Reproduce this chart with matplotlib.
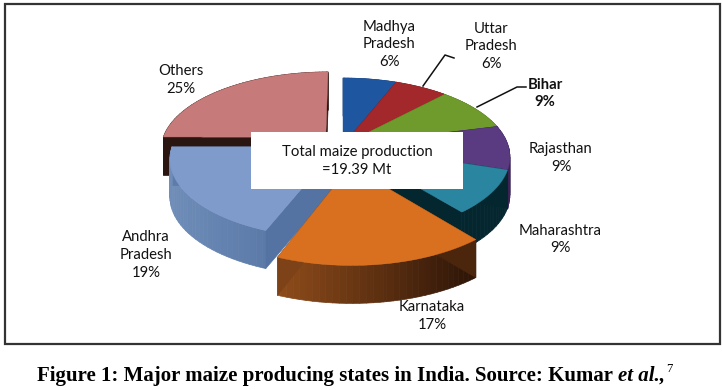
import matplotlib
matplotlib.use("Agg")
import matplotlib.pyplot as plt
import numpy as np
from matplotlib.collections import PolyCollection
from matplotlib.colors import to_rgb
from matplotlib.patches import Polygon, Rectangle

states = ["Madhya\nPradesh", "Uttar\nPradesh", "Bihar", "Rajasthan", "Maharashtra",
          "Karnataka", "Andhra\nPradesh", "Others"]
shares = [6, 6, 9, 9, 9, 17, 19, 25]
explode = [0, 0, 0, 0, 0, 0.27, 0.04, 0.15]
top_colors = ["#1f56a0", "#a3282c", "#6f9a2c", "#5a3a80", "#2a85a0",
              "#d8701f", "#7f9bcb", "#c67a7a"]
side_left = ["#123a70", "#6e1a1c", "#4a6a1c", "#3a2456", "#04262e",
             "#8f4c1a", "#6f8db8", "#2a1510"]
side_right = ["#123a70", "#6e1a1c", "#4a6a1c", "#3a2456", "#04262e",
              "#2c1407", "#4d6c9c", "#2a1510"]
# painter's order, back to front
draw_order = [7, 0, 1, 2, 3, 4, 6, 5]

# where the pie sits, in pixels
cx, cy = 343, 145
rx, ry = 165, 77
persp = 0.15
depth = 38

label_pos = [(389, 44.5), (491, 46.5), (545, 93.5), (561, 158), (560, 239.5),
             (432, 316), (146, 255), (181, 80)]


def to_screen(pts):
    s = 1 / (1 + persp * pts[:, 1])
    return np.column_stack([cx + rx * pts[:, 0] * s, cy - ry * pts[:, 1] * s])


fig = plt.figure(figsize=(7.22, 3.9), dpi=100)
ax = fig.add_axes([0, 0, 1, 1])
ax.set_xlim(0, 722)
ax.set_ylim(390, 0)
ax.axis("off")

# let pie work out the wedges, then project them
tmp = fig.add_axes([0, 0, 1, 1])
wedges, _ = tmp.pie(shares, explode=explode, startangle=90, counterclock=False)
outlines = []
for w in wedges:
    p = w.get_patch_transform().transform_path(w.get_path())
    # scaled up first, to_polygons flattens curves in pixel-ish units
    big = p.transformed(matplotlib.transforms.Affine2D().scale(1000))
    outlines.append(to_screen(big.to_polygons(closed_only=False)[0] / 1000))
fig.delaxes(tmp)

ax.add_patch(Rectangle((4.5, 3.5), 715, 340, fc="white", ec="#333333", lw=1.6, zorder=0))

for i in draw_order:
    top = outlines[i]
    a, b = top, np.roll(top, -1, axis=0)
    quads = [[p, q, q + [0, depth], p + [0, depth]] for p, q in zip(a, b)]
    t = (((a[:, 0] + b[:, 0]) / 2 - top[:, 0].min()) / np.ptp(top[:, 0]))[:, None]
    cols = (1 - t) * np.array(to_rgb(side_left[i])) + t * np.array(to_rgb(side_right[i]))
    ax.add_collection(PolyCollection(quads, facecolors=cols, edgecolors=cols, lw=0.5))
    ax.add_patch(Polygon(top, closed=True, fc=top_colors[i], ec=top_colors[i], lw=0.3))

font = "Lato"
for i, (name, share) in enumerate(zip(states, shares)):
    x, y = label_pos[i]
    ax.text(x, y, f"{name}\n{share}%", ha="center", va="center", fontsize=10.7,
            family=font, color="#111111", linespacing=1.32,
            fontweight="bold" if name == "Bihar" else "normal")

# leader lines
ax.plot([423, 445, 454], [86, 55, 58], color="#111111", lw=1.1)
ax.plot([477, 517, 526], [107, 87, 87], color="#111111", lw=1.1)

ax.add_patch(Rectangle((251, 132), 212, 57, fc="white", ec="none", zorder=5))
ax.text(357, 161, "Total maize production\n=19.39 Mt", ha="center", va="center",
        fontsize=10.7, family=font, color="#111111", linespacing=1.32, zorder=6)

# caption, three runs side by side
r = fig.canvas.get_renderer()
t = ax.text(37, 376, "Figure 1: Major maize producing states in India. Source: Kumar",
            family="Liberation Serif", fontsize=15, fontweight="bold", va="center", ha="left",
            color="black")
x = t.get_window_extent(r).x1 + 5
t = ax.text(x, 376, "et al.,", family="Liberation Serif", fontsize=15, fontweight="bold",
            style="italic", va="center", ha="left", color="black")
x = t.get_window_extent(r).x1
ax.text(x + 1, 369, "7", family="Liberation Serif", fontsize=9, va="center", ha="left", color="black")

fig.savefig("out.png", dpi=100)
